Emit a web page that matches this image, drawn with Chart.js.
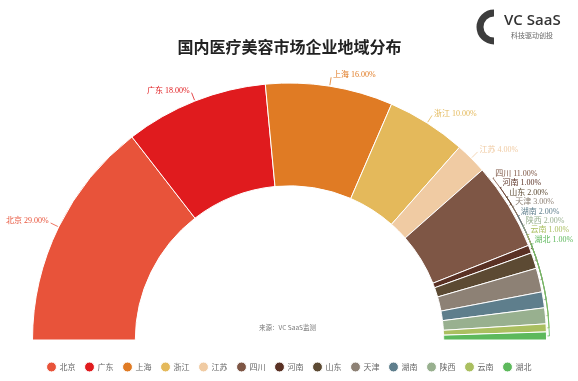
<!DOCTYPE html>
<html><head><meta charset="utf-8">
<script src="https://cdn.jsdelivr.net/npm/chart.js@4.4.1/dist/chart.umd.min.js"></script>
<style>
html,body{margin:0;padding:0;background:#fff;}
#wrap{position:relative;width:578px;height:381px;overflow:hidden;}
#logo{position:absolute;left:474px;top:8px;width:100px;height:40px;}
#logo svg{position:absolute;left:0;top:0;}
#logoName{position:absolute;left:30px;top:1px;font:600 15px "Open Sans",sans-serif;color:#333;white-space:nowrap;letter-spacing:0px;}
#logoSub{position:absolute;left:37px;top:22px;font:7px "Noto Sans CJK SC",sans-serif;color:#666;white-space:nowrap;}
</style></head><body>
<div id="wrap">
<canvas id="c" width="578" height="381"></canvas>
<div id="logo">
<svg width="26" height="38" viewBox="0 0 26 38"><path d="M20 5 A14 14 0 1 0 20 33" fill="none" stroke="#3d3d3d" stroke-width="7"/></svg>
<div id="logoName">VC SaaS</div>
<div id="logoSub">科技驱动创投</div>
</div>
</div>
<script>
const chartTitle = '国内医疗美容市场企业地域分布';
const sourceNote = '来源：VC SaaS监测';
const categories = ['北京','广东','上海','浙江','江苏','四川','河南','山东','天津','湖南','陕西','云南','湖北'];
const shares = [29, 18, 16, 10, 4, 11, 1, 2, 3, 2, 2, 1, 1];
const sliceColors = ['#E8533A','#E01B1E','#E07B24','#E4B95B','#F0CBA3','#7E5645','#5A3124','#5C4A33','#8D8175','#5E7E8C','#98B08F','#AABF60','#5DB95C'];

const STACK_FROM = 5;

const labelPlugin = {
  id: 'sliceLabels',
  afterDatasetsDraw(chart) {
    const meta = chart.getDatasetMeta(0);
    const ctx = chart.ctx;
    ctx.save();
    ctx.font = '8px "Liberation Serif", "Noto Sans CJK SC"';
    ctx.textBaseline = 'middle';
    let lastY = 0, stackY = null, ccx = 0, ccy = 0;
    meta.data.forEach((arc, i) => {
      const p = arc.getProps(['x','y','startAngle','endAngle','outerRadius'], true);
      const cx = p.x, cy = p.y, R = p.outerRadius;
      ccx = cx; ccy = cy;
      const mid = (p.startAngle + p.endAngle) / 2;
      const cos = Math.cos(mid), sin = Math.sin(mid);
      const text = categories[i] + ' ' + shares[i].toFixed(2) + '%';
      ctx.strokeStyle = sliceColors[i];
      ctx.fillStyle = sliceColors[i];
      ctx.lineWidth = 0.8;
      if (i < STACK_FROM) {
        const x1 = cx + (R + 1) * cos, y1 = cy + (R + 1) * sin;
        const x2 = cx + (R + 9) * cos, y2 = cy + (R + 9) * sin;
        ctx.beginPath(); ctx.moveTo(x1, y1); ctx.lineTo(x2, y2); ctx.stroke();
        if (cos < 0) { ctx.textAlign = 'right'; ctx.fillText(text, x2 - 2, y2 - 2); }
        else { ctx.textAlign = 'left'; ctx.fillText(text, x2 + 2, y2 - 2); }
        lastY = y2 - 2;
      } else {
        stackY = (stackY === null) ? lastY + 24 : stackY + 9.4;
        const rr = R + 5;
        const lx = cx + Math.sqrt(rr * rr - (cy - stackY) * (cy - stackY));
        ctx.textAlign = 'left';
        ctx.fillText(text, lx + 3, stackY);
        const rl = R + 3;
        const a0 = Math.atan2(stackY + 4 - cy, lx + 1 - cx);
        ctx.beginPath();
        ctx.moveTo(lx + 2, stackY + 4);
        ctx.arc(cx, cy, rl, a0, mid, false);
        ctx.lineTo(cx + (R + 1) * cos, cy + (R + 1) * sin);
        ctx.stroke();
      }
    });
    ctx.font = '6.5px "Noto Sans CJK SC"';
    ctx.fillStyle = '#777';
    ctx.textAlign = 'center';
    ctx.fillText(sourceNote, ccx - 2, ccy - 12);
    ctx.restore();
  }
};

new Chart(document.getElementById('c'), {
  type: 'doughnut',
  data: {
    labels: categories,
    datasets: [{
      data: shares,
      backgroundColor: sliceColors,
      borderColor: '#ffffff',
      borderWidth: 1,
      radius: 257
    }]
  },
  options: {
    responsive: false,
    animation: false,
    devicePixelRatio: 1,
    rotation: -90,
    circumference: 180,
    cutout: '60%',
    layout: { padding: { left: 32, right: 31, top: 0, bottom: 0 } },
    plugins: {
      title: {
        display: true,
        text: chartTitle,
        color: '#222',
        font: { family: '"Noto Sans CJK SC"', size: 16, weight: 'bold' },
        padding: { top: 37.4, bottom: 13.4 }
      },
      legend: {
        position: 'bottom',
        labels: {
          usePointStyle: true,
          pointStyle: 'circle',
          boxWidth: 8,
          boxHeight: 7,
          padding: 10,
          color: '#666',
          font: { family: '"Noto Sans CJK SC"', size: 8 }
        }
      },
      tooltip: { enabled: false }
    }
  },
  plugins: [labelPlugin]
});
</script>
</body></html>
